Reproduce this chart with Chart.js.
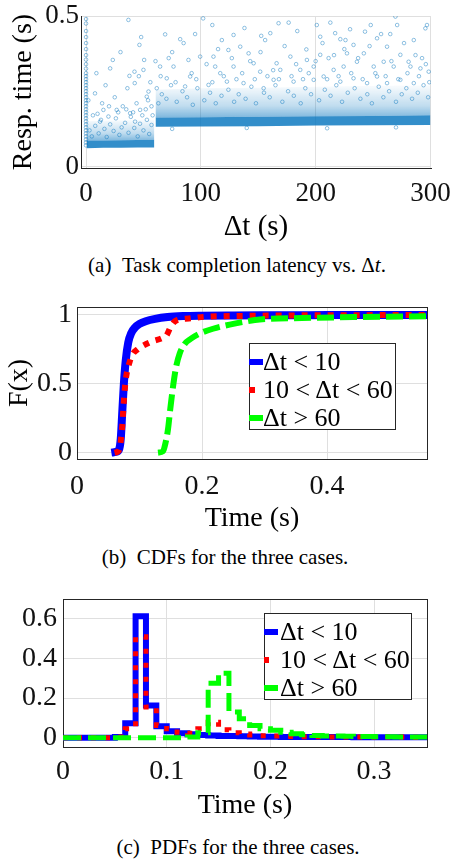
<!DOCTYPE html>
<html>
<head>
<meta charset="utf-8">
<script src="https://cdn.jsdelivr.net/npm/chart.js@4.4.1/dist/chart.umd.min.js"></script>
<style>
body { margin: 0; width: 451px; height: 860px; background: #fff; position: relative; overflow: hidden; font-family: "Liberation Serif", serif; }
canvas { position: absolute; left: 0; }
.cap { position: absolute; font-size: 21px; white-space: nowrap; transform: translate(-50%, -50%); color: #000; }
.leg { position: absolute; border: 1px solid #262626; background: #fff; font-size: 26px; box-sizing: border-box; padding-top: 4px; color: #000; }
.leg div { height: 28px; line-height: 28px; position: relative; white-space: nowrap; }
.leg .mk { position: absolute; top: 11px; height: 6px; }
</style>
</head>
<body>
<canvas id="cA" width="451" height="250" style="top:0;width:451px;height:250px"></canvas>
<div class="cap" style="left:237px;top:265px">(a)&ensp;Task completion latency vs. Δ<i>t</i>.</div>

<canvas id="cB" width="451" height="260" style="top:280px;width:451px;height:260px"></canvas>
<div class="leg" id="legB" style="left:249px;top:343px;width:147px;height:87px;padding-left:13px"></div>
<div class="cap" style="left:225px;top:557px">(b)&ensp;CDFs for the three cases.</div>

<canvas id="cC" width="451" height="260" style="top:570px;width:451px;height:260px"></canvas>
<div class="leg" id="legC" style="left:264px;top:613px;width:148px;height:87px;padding-left:15px"></div>
<div class="cap" style="left:238px;top:847px">(c)&ensp;PDFs for the three cases.</div>

<script>
// ---- (a) response time vs delta t ----
var xTicksA = [0, 100, 200, 300];
var xLabelsA = ['0', '100', '200', '300'];
var yTicksA = [0, 0.5];
var yLabelsA = ['0', '0.5'];

// dense part of the cloud, read as bands (before / after delta t = 60)
var leftX    = [0.5,   15,    30,    45,    59.5];
var leftLo   = [0.061, 0.062, 0.062, 0.063, 0.063];
var leftHi   = [0.086, 0.086, 0.087, 0.088, 0.089];
var leftTop  = [0.150, 0.152, 0.154, 0.155, 0.156];
var rightX   = [60.5,  100,   150,   200,   250,   300];
var rightLo  = [0.132, 0.133, 0.134, 0.136, 0.137, 0.138];
var rightHi  = [0.163, 0.164, 0.165, 0.167, 0.168, 0.170];
var rightTop = [0.255, 0.260, 0.262, 0.265, 0.268, 0.270];

// column of samples at delta t = 0
var columnY = [0.49, 0.475, 0.45, 0.43, 0.41, 0.39, 0.37, 0.355, 0.34, 0.325, 0.31, 0.30, 0.29, 0.28,
  0.27, 0.26, 0.25, 0.24, 0.23, 0.22, 0.21, 0.20, 0.19, 0.18, 0.17, 0.16, 0.15, 0.14, 0.13, 0.12,
  0.11, 0.10, 0.09, 0.08, 0.07];

// scattered samples
var sparse = [
  [36.9, 0.487], [102, 0.492], [167.7, 0.476], [176.5, 0.478], [212.8, 0.478], [269.5, 0.498],
  [295.6, 0.459], [297, 0.47], [243, 0.448], [230, 0.456], [217, 0.443], [271, 0.47],
  [128.5, 0.437], [152.6, 0.434], [160.5, 0.443], [68.9, 0.439], [82, 0.423], [118.3, 0.42],
  [46.5, 0.404], [124, 0.387], [134.3, 0.398], [141.6, 0.376], [191.9, 0.389], [192.4, 0.354],
  [204, 0.431], [221.5, 0.423], [233, 0.404], [253.5, 0.426], [262.2, 0.398], [285.5, 0.42],
  [292.7, 0.36], [281, 0.348], [23.3, 0.354], [21, 0.326], [50.6, 0.354], [50, 0.321],
  [37.8, 0.301], [42.2, 0.315], [42.4, 0.277], [89.2, 0.354], [90.7, 0.299], [76.2, 0.332],
  [64.5, 0.332], [70.3, 0.293], [99.4, 0.365], [111, 0.365], [112.5, 0.332], [116.9, 0.31],
  [128.5, 0.332], [146, 0.343], [151.7, 0.315], [166, 0.343], [169.2, 0.321], [178, 0.365],
  [186.6, 0.321], [198.3, 0.332], [204, 0.371], [211.3, 0.36], [215.7, 0.321], [224.4, 0.332],
  [227.3, 0.376], [236, 0.348], [242, 0.376], [250.6, 0.332], [259.3, 0.348], [268, 0.332],
  [273.8, 0.371], [282.6, 0.332], [291.3, 0.326], [298.5, 0.315], [253.5, 0.299], [233, 0.293],
  [207, 0.299], [198.3, 0.288], [180.8, 0.282], [163.4, 0.288], [137.2, 0.277], [122.7, 0.282],
  [106.7, 0.271], [86.3, 0.266], [61.6, 0.26], [7.8, 0.243], [15.1, 0.188], [26.7, 0.188],
  [38.4, 0.177], [47.1, 0.188], [54.4, 0.249], [52.9, 0.232], [12.2, 0.149], [19.5, 0.166],
  [42.7, 0.149], [244.8, 0.277], [262.2, 0.277], [285.5, 0.277], [273.8, 0.288], [221.5, 0.282],
  [154.7, 0.26],
  [3, 0.12], [5, 0.1], [8, 0.135], [11, 0.11], [13, 0.155], [16, 0.125], [18, 0.098], [21, 0.14],
  [24, 0.118], [26, 0.16], [29, 0.105], [31, 0.13], [34, 0.145], [37, 0.112], [39, 0.165],
  [42, 0.128], [45, 0.1], [47, 0.142], [50, 0.12], [53, 0.155], [55, 0.108], [57, 0.138],
  [58, 0.17], [20, 0.2], [35, 0.19], [44, 0.21], [10, 0.175], [28, 0.18], [52, 0.19],
  [63, 0.21], [66, 0.24], [70, 0.225], [74, 0.27], [79, 0.215], [84, 0.25], [88, 0.23],
  [93, 0.205], [97, 0.26], [103, 0.22], [108, 0.245], [113, 0.21], [118, 0.235], [124, 0.255],
  [129, 0.215], [133, 0.24], [139, 0.225], [144, 0.265], [148, 0.21], [155, 0.245], [160, 0.23],
  [165, 0.27], [171, 0.215], [176, 0.25], [181, 0.235], [187, 0.21], [191, 0.26], [196, 0.24],
  [203, 0.22], [208, 0.255], [213, 0.235], [218, 0.27], [223, 0.215], [228, 0.245], [234, 0.26],
  [239, 0.225], [245, 0.24], [249, 0.21], [255, 0.265], [259, 0.23], [264, 0.25], [270, 0.215],
  [275, 0.24], [279, 0.26], [284, 0.225], [289, 0.245], [294, 0.27], [298, 0.23],
  [75, 0.125], [140, 0.128], [210, 0.127], [270, 0.13],
  [65, 0.30], [72, 0.36], [78, 0.28], [85, 0.41], [92, 0.31], [96, 0.29], [105, 0.34], [110, 0.28],
  [115, 0.39], [120, 0.30], [127, 0.36], [131, 0.29], [136, 0.31], [143, 0.35], [147, 0.29],
  [152, 0.38], [158, 0.30], [163, 0.32], [168, 0.29], [173, 0.40], [179, 0.30], [183, 0.34],
  [189, 0.29], [194, 0.31], [200, 0.35], [206, 0.41], [210, 0.29], [216, 0.37], [220, 0.30],
  [226, 0.42], [231, 0.31], [237, 0.36], [241, 0.29], [247, 0.40], [252, 0.31], [257, 0.44],
  [261, 0.30], [266, 0.35], [272, 0.29], [277, 0.41], [280, 0.31], [287, 0.37], [290, 0.30],
  [296, 0.34], [299, 0.28], [184, 0.45], [156, 0.42], [138, 0.46], [95, 0.44], [201, 0.47],
  [248, 0.47], [225, 0.39], [265, 0.44], [110, 0.47], [75, 0.38], [60.5, 0.35],
  [2, 0.22], [6, 0.17], [14, 0.21], [17, 0.27], [25, 0.23], [32, 0.2], [36, 0.26], [41, 0.18],
  [46, 0.3], [49, 0.17], [54, 0.22], [56, 0.28], [9, 0.31], [30, 0.38], [48, 0.43], [57, 0.2]
];

// ---- (b) CDFs ----
var xTicksB = [0, 0.2, 0.4];
var xLabelsB = ['0', '0.2', '0.4'];
var yTicksB = [0, 0.5, 1];
var yLabelsB = ['0', '0.5', '1'];
var cdfBlueT = [0.055, 0.062, 0.067, 0.070, 0.0725, 0.075, 0.078, 0.082, 0.087, 0.093, 0.100, 0.110, 0.125, 0.145, 0.170, 0.200, 0.250, 0.300, 0.400, 0.560];
var cdfBlueF = [0.0, 0.005, 0.02, 0.10, 0.30, 0.50, 0.67, 0.80, 0.87, 0.91, 0.935, 0.955, 0.972, 0.985, 0.992, 0.995, 0.997, 0.998, 0.999, 1.0];
var cdfRedT = [0.060, 0.066, 0.069, 0.0725, 0.075, 0.078, 0.0843, 0.0896, 0.097, 0.103, 0.119, 0.135, 0.143, 0.150, 0.158, 0.179, 0.205, 0.260, 0.320, 0.400, 0.560];
var cdfRedF = [0.0, 0.01, 0.05, 0.20, 0.38, 0.53, 0.66, 0.72, 0.75, 0.77, 0.806, 0.83, 0.85, 0.915, 0.958, 0.975, 0.987, 0.993, 0.996, 0.998, 1.0];
var cdfGreenT = [0.1296, 0.1376, 0.1416, 0.1456, 0.1493, 0.1525, 0.1552, 0.1589, 0.1643, 0.1723, 0.183, 0.1963, 0.2176, 0.2443, 0.271, 0.2923, 0.36, 0.45, 0.56];
var cdfGreenF = [0.0, 0.01, 0.07, 0.17, 0.32, 0.44, 0.53, 0.63, 0.72, 0.79, 0.83, 0.865, 0.90, 0.93, 0.953, 0.967, 0.978, 0.985, 0.99];

// ---- (c) PDFs, bins of 0.01 s ----
var xTicksC = [0, 0.1, 0.2, 0.3];
var xLabelsC = ['0', '0.1', '0.2', '0.3'];
var yTicksC = [0, 0.2, 0.4, 0.6];
var yLabelsC = ['0', '0.2', '0.4', '0.6'];
var binEdges = [0, 0.01, 0.02, 0.03, 0.04, 0.05, 0.06, 0.07, 0.08, 0.09, 0.10, 0.11, 0.12,
  0.13, 0.14, 0.15, 0.16, 0.17, 0.18, 0.19, 0.20, 0.21, 0.22, 0.23, 0.24, 0.25, 0.26, 0.27,
  0.28, 0.29, 0.30, 0.31, 0.32, 0.33, 0.34, 0.35, 0.36];
var pdfBlue = [0, 0, 0, 0, 0, 0.003, 0.073, 0.613, 0.163, 0.058, 0.033, 0.023, 0.017, 0.013,
  0.011, 0.009, 0.008, 0.007, 0.006, 0.005, 0.005, 0.004, 0.004, 0.004, 0.003, 0.003, 0.003,
  0.003, 0.002, 0.002, 0.002, 0.002, 0.002, 0.002, 0.002, 0.002];
var pdfRed = [0, 0, 0, 0, 0, 0.003, 0.045, 0.51, 0.155, 0.062, 0.045, 0.028, 0.022, 0.045,
  0.078, 0.04, 0.025, 0.018, 0.013, 0.01, 0.008, 0.007, 0.006, 0.005, 0.005, 0.004, 0.004,
  0.004, 0.003, 0.003, 0.003, 0.003, 0.003, 0.002, 0.002, 0.002];
var pdfGreen = [0, 0, 0, 0, 0, 0, 0, 0, 0, 0, 0, 0, 0.003, 0.025, 0.275, 0.325, 0.13, 0.095,
  0.062, 0.045, 0.037, 0.028, 0.02, 0.015, 0.011, 0.009, 0.008, 0.007, 0.006, 0.006, 0.005,
  0.005, 0.004, 0.004, 0.004, 0.003];

var seriesNames = ['Δt < 10', '10 < Δt < 60', 'Δt > 60'];

var SERIF = 'Liberation Serif';
var AXIS = '#262626';
var GRID = '#dfdfdf';

function pairs(xs, ys) {
  return xs.map(function (x, i) { return { x: x, y: ys[Math.min(i, ys.length - 1)] }; });
}

function fixedTicks(values) {
  return function (scale) { scale.ticks = values.map(function (v) { return { value: v }; }); };
}

function fitH(h) {
  return function (s) { s.height = h; s.paddingLeft = 0; s.paddingRight = 0; };
}
function fitW(w) {
  return function (s) { s.width = w; s.paddingTop = 0; s.paddingBottom = 0; };
}

function xAxis(o) {
  return {
    type: 'linear', position: 'bottom', min: o.min, max: o.max,
    afterBuildTicks: fixedTicks(o.ticks),
    afterFit: fitH(o.h),
    ticks: { font: { family: SERIF, size: o.tickSize }, color: '#111', padding: o.tickPad,
      maxRotation: 0, callback: function (v, i) { return o.labels[i]; } },
    grid: { color: GRID, drawTicks: false },
    border: { color: AXIS, width: 1 },
    title: { display: true, text: o.title, color: '#000',
      font: { family: SERIF, size: o.titleSize }, padding: { top: 0, bottom: o.titlePad } }
  };
}

function yAxis(o) {
  return {
    type: 'linear', position: 'left', min: o.min, max: o.max,
    afterBuildTicks: fixedTicks(o.ticks),
    afterFit: fitW(o.w),
    ticks: { font: { family: SERIF, size: o.tickSize }, color: '#111', padding: o.tickPad,
      callback: function (v, i) { return o.labels[i]; } },
    grid: { color: GRID, drawTicks: false },
    border: { color: AXIS, width: 1 },
    title: { display: !!o.title, text: o.title || '', color: '#000',
      font: { family: SERIF, size: o.titleSize || 28 }, padding: { top: o.titlePad || 0, bottom: 0 } }
  };
}

// plain axes only used to close the box on top and right
function frameAxis(pos) {
  var horiz = pos === 'top';
  return {
    type: 'linear', position: pos, display: true,
    ticks: { display: false }, grid: { display: false },
    border: { color: AXIS, width: 1 },
    afterFit: horiz ? fitH(0) : fitW(0)
  };
}

var common = {
  responsive: false,
  animation: false,
  events: [],
  plugins: { legend: { display: false }, tooltip: { enabled: false } }
};

function opts(extra) {
  var o = {};
  Object.keys(common).forEach(function (k) { o[k] = common[k]; });
  Object.keys(extra).forEach(function (k) { o[k] = extra[k]; });
  return o;
}

// vertical fade from the top of the core to the top of the halo
function fade(from, to) {
  var lo = Math.min.apply(null, from), hi = Math.max.apply(null, to);
  return function (ctx) {
    var c = ctx.chart;
    if (!c.chartArea) return 'rgba(0,114,189,0.2)';
    var y = c.scales.y;
    var g = c.ctx.createLinearGradient(0, y.getPixelForValue(lo), 0, y.getPixelForValue(hi));
    g.addColorStop(0, 'rgba(0,114,189,0.50)');
    g.addColorStop(0.35, 'rgba(0,114,189,0.25)');
    g.addColorStop(1, 'rgba(0,114,189,0.02)');
    return g;
  };
}

function bandSet(xs, ys, fill, color) {
  return { type: 'line', data: pairs(xs, ys), borderColor: 'rgba(0,0,0,0)', borderWidth: 0,
    pointRadius: 0, tension: 0, fill: fill, backgroundColor: color };
}

var cloud = columnY.map(function (y) { return [0, y]; }).concat(sparse);
var CORE = 'rgba(0,114,189,0.8)';

new Chart(document.getElementById('cA'), {
  type: 'scatter',
  data: {
    datasets: [
      bandSet(leftX, leftLo, false, 'rgba(0,0,0,0)'),
      bandSet(leftX, leftHi, '-1', CORE),
      bandSet(leftX, leftTop, '-1', fade(leftHi, leftTop)),
      bandSet(rightX, rightLo, false, 'rgba(0,0,0,0)'),
      bandSet(rightX, rightHi, '-1', CORE),
      bandSet(rightX, rightTop, '-1', fade(rightHi, rightTop)),
      {
        data: cloud.map(function (p) { return { x: p[0], y: p[1] }; }),
        pointRadius: 1.8, borderWidth: 0.8,
        borderColor: 'rgba(0,114,189,0.55)', backgroundColor: 'rgba(0,0,0,0)'
      }
    ]
  },
  options: opts({
    layout: { padding: { left: 0, top: 16, right: 20, bottom: 0 } },
    scales: {
      x: xAxis({ min: -4.4, max: 300.5, ticks: xTicksA, labels: xLabelsA, h: 82, tickSize: 27,
        tickPad: 10, title: 'Δt (s)', titleSize: 29, titlePad: 5 }),
      y: yAxis({ min: -0.005, max: 0.5, ticks: yTicksA, labels: yLabelsA, w: 81, tickSize: 27,
        tickPad: 2, title: 'Resp. time (s)', titleSize: 28, titlePad: 7 })
    }
  })
});

function lineSet(label, data, color, width, dash, order) {
  return { type: 'line', label: label, data: data, borderColor: color, backgroundColor: color,
    borderWidth: width, borderDash: dash, borderCapStyle: 'butt', pointRadius: 0,
    fill: false, order: order };
}

var chartB = new Chart(document.getElementById('cB'), {
  type: 'line',
  data: {
    datasets: [
      lineSet(seriesNames[0], pairs(cdfBlueT, cdfBlueF), '#0000ff', 8, [], 3),
      lineSet(seriesNames[1], pairs(cdfRedT, cdfRedF), '#ff0000', 6, [6, 7], 2),
      lineSet(seriesNames[2], pairs(cdfGreenT, cdfGreenF), '#00ff00', 6, [17, 6], 1)
    ]
  },
  options: opts({
    elements: { line: { cubicInterpolationMode: 'monotone' } },
    layout: { padding: { left: 0, top: 27, right: 24, bottom: 0 } },
    scales: {
      x: xAxis({ min: 0, max: 0.56, ticks: xTicksB, labels: xLabelsB, h: 81, tickSize: 28,
        tickPad: 11, title: 'Time (s)', titleSize: 28, titlePad: 5 }),
      y: yAxis({ min: -0.046, max: 1.058, ticks: yTicksB, labels: yLabelsB, w: 77, tickSize: 28,
        tickPad: 5, title: 'F(x)', titleSize: 28, titlePad: 3 }),
      x2: frameAxis('top'),
      y2: frameAxis('right')
    }
  })
});

var chartC = new Chart(document.getElementById('cC'), {
  type: 'line',
  data: {
    datasets: [
      lineSet(seriesNames[0], pairs(binEdges, pdfBlue), '#0000ff', 6, [], 3),
      lineSet(seriesNames[1], pairs(binEdges, pdfRed), '#ff0000', 5, [5, 9], 2),
      lineSet(seriesNames[2], pairs(binEdges, pdfGreen), '#00ff00', 5, [18, 7], 1)
    ]
  },
  options: opts({
    elements: { line: { stepped: 'before' } },
    layout: { padding: { left: 0, top: 29, right: 24, bottom: 0 } },
    scales: {
      x: xAxis({ min: 0, max: 0.351, ticks: xTicksC, labels: xLabelsC, h: 83, tickSize: 28,
        tickPad: 8, title: 'Time (s)', titleSize: 28, titlePad: 8 }),
      y: yAxis({ min: -0.047, max: 0.70, ticks: yTicksC, labels: yLabelsC, w: 63, tickSize: 28,
        tickPad: 6 }),
      x2: frameAxis('top'),
      y2: frameAxis('right')
    }
  })
});

// legend boxes built from each chart's datasets
function buildLegend(chart, id) {
  var box = document.getElementById(id);
  var left = -parseFloat(box.style.paddingLeft) - 1;
  chart.data.datasets.forEach(function (ds) {
    var row = document.createElement('div');
    var mk = document.createElement('span');
    mk.className = 'mk';
    mk.style.left = left + 'px';
    mk.style.width = (ds.borderDash.length ? Math.min(ds.borderDash[0], 14) : 14) + 'px';
    mk.style.background = ds.borderColor;
    row.appendChild(mk);
    row.appendChild(document.createTextNode(ds.label));
    box.appendChild(row);
  });
}
buildLegend(chartB, 'legB');
buildLegend(chartC, 'legC');
</script>
</body>
</html>
